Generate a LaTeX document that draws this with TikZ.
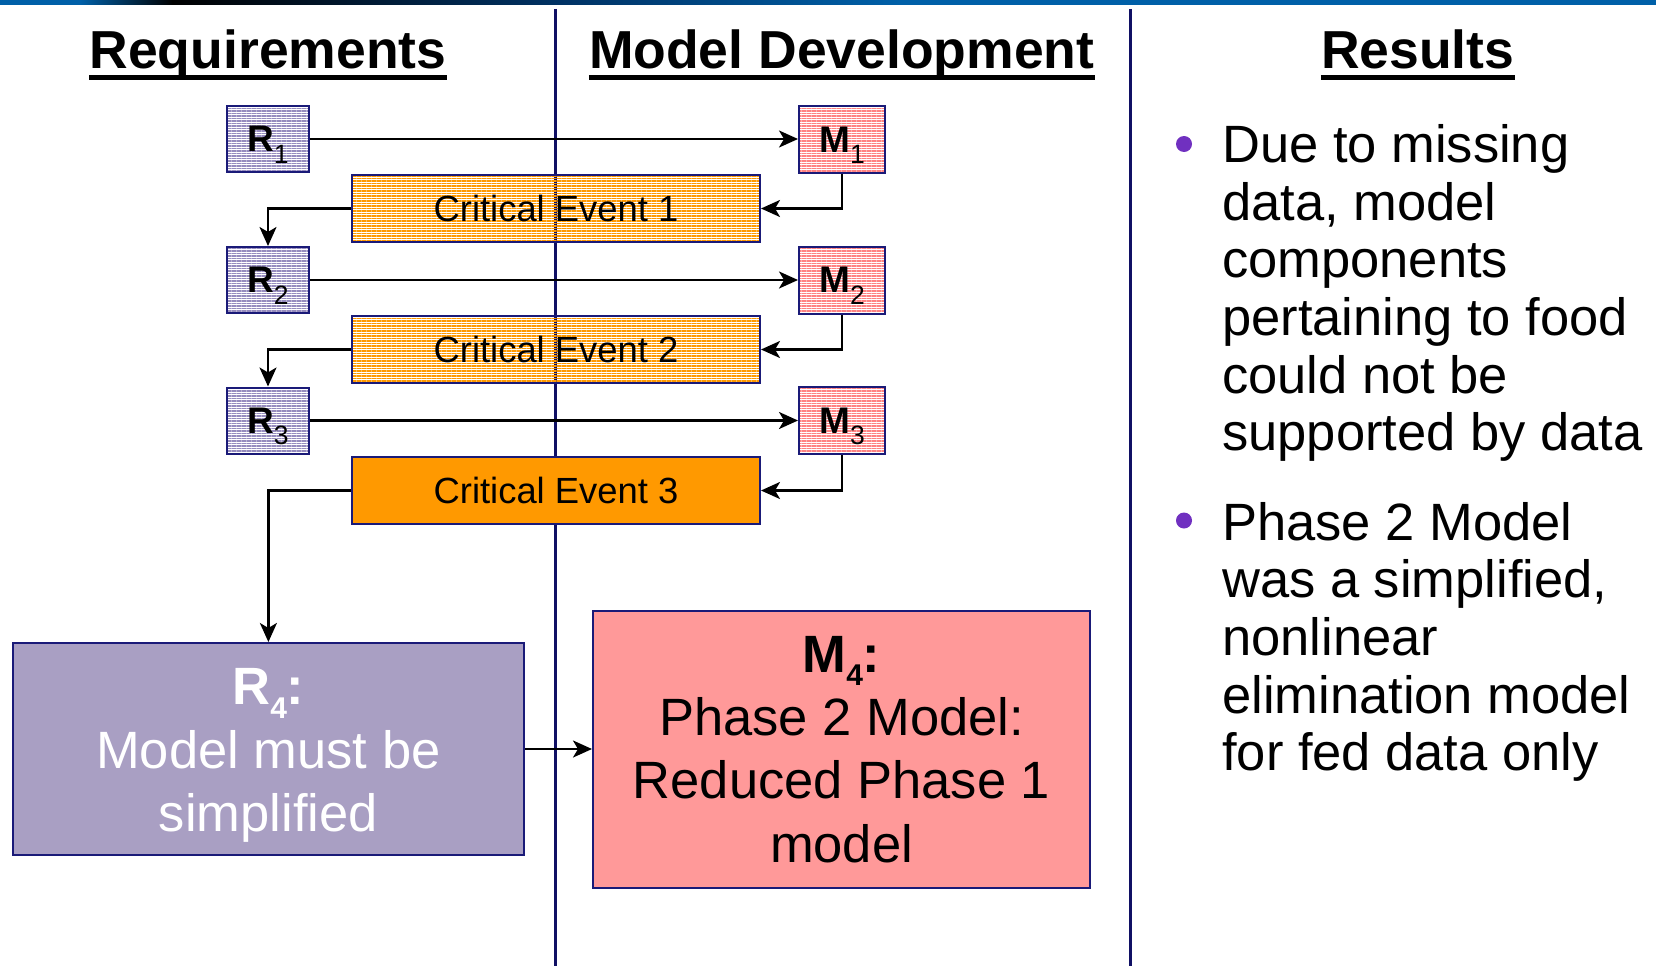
\documentclass[tikz,border=0pt]{standalone}
\usepackage{fontspec}
\setmainfont{Liberation Sans}
\usetikzlibrary{arrows.meta,patterns.meta}
\definecolor{navy}{RGB}{26,26,120}
\definecolor{vnavy}{RGB}{16,16,100}
\definecolor{rline}{RGB}{150,140,190}
\definecolor{mline}{RGB}{255,130,130}
\definecolor{oline}{RGB}{255,153,0}
\definecolor{rfill}{RGB}{169,159,195}
\definecolor{mfill}{RGB}{255,153,153}
\definecolor{ofill}{RGB}{255,153,0}
\definecolor{bulletc}{RGB}{112,48,192}
\definecolor{barblue}{RGB}{0,96,168}
\definecolor{bardark}{RGB}{0,50,100}
\newcommand\subsmall[1]{\raisebox{-11.6pt}[0pt][0pt]{\fontsize{26.5pt}{27pt}\selectfont\mdseries #1}}
\newcommand\sublarge[1]{\raisebox{-13.4pt}[0pt][0pt]{\fontsize{30pt}{31pt}\selectfont\bfseries #1}}
\begin{document}
\begin{tikzpicture}[x=1pt,y=-1pt,
  box/.style={draw=navy, line width=2pt, inner sep=0pt, minimum height=66pt},
  rbox/.style={box, minimum width=82pt, pattern={Lines[angle=0,distance=2.5pt,line width=1.1pt]}, pattern color=rline, font=\fontsize{37pt}{40pt}\selectfont\bfseries},
  mbox/.style={box, minimum width=86pt, minimum height=67pt, pattern={Lines[angle=0,distance=2.5pt,line width=1.1pt]}, pattern color=mline, font=\fontsize{37pt}{40pt}\selectfont\bfseries},
  cebox/.style={box, minimum width=408pt, minimum height=67pt, font=\fontsize{36.4pt}{40pt}\selectfont},
  cehatch/.style={cebox, pattern={Lines[angle=0,distance=2.5pt,line width=1.1pt]}, pattern color=oline},
  bigtext/.style={font=\fontsize{52.5pt}{63.3pt}\selectfont, align=center, inner sep=0pt},
  conn/.style={line width=2.5pt, -{Stealth[length=19pt,width=17pt,inset=5pt]}},
  vline/.style={line width=3pt, vnavy},
  hdr/.style={font=\fontsize{53.5pt}{60pt}\selectfont\bfseries, inner sep=0pt, anchor=base},
  restext/.style={anchor=north west, inner sep=0pt, align=left, font=\fontsize{52.5pt}{57.6pt}\selectfont},
  bul/.style={circle, fill=bulletc, minimum size=16pt, inner sep=0pt}
]
\useasboundingbox (0,0) rectangle (1656,966);
% top bar
\fill[barblue] (0,0) rectangle (80.5,5);
\shade[left color=barblue, right color=black] (80,0) rectangle (172.5,5);
\shade[left color=black, right color=bardark] (172,0) rectangle (560.5,5);
\shade[left color=bardark, right color=barblue] (560,0) rectangle (900.5,5);
\fill[barblue] (900,0) rectangle (1656,5);
% column separators
\draw[vline] (555.5,9) -- (555.5,966);
\draw[vline] (1130,9) -- (1130,966);
% headers
\node[hdr] (h1) at (268,68.3) {Requirements};
\node[hdr] (h2) at (841.7,68.3) {Model Development};
\node[hdr] (h3) at (1417.7,68.3) {Results};
\foreach \h in {h1,h2,h3}
  \draw[line width=5pt] ([yshift=-9.2pt]\h.base west) -- ([yshift=-9.2pt]\h.base east);
% requirement boxes
\node[rbox] (R1) at (268,139) {R\subsmall{1}};
\node[rbox] (R2) at (268,280) {R\subsmall{2}};
\node[rbox] (R3) at (268,420.5) {R\subsmall{3}};
% model boxes
\node[mbox] (M1) at (842,139.5) {M\subsmall{1}};
\node[mbox] (M2) at (842,280) {M\subsmall{2}};
\node[mbox] (M3) at (842,420.5) {M\subsmall{3}};
% critical events
\node[cehatch] (CE1) at (556,208.5) {Critical Event 1};
\node[cehatch] (CE2) at (556,349.5) {Critical Event 2};
\node[cebox, fill=ofill] (CE3) at (556,490.5) {Critical Event 3};
% big boxes
\node[box, fill=rfill, minimum width=511pt, minimum height=212pt, bigtext, text=white] (R4) at (268.4,749)
  {\rule{0pt}{49pt}\textbf{R\sublarge{4}:}\\Model must be\\simplified};
\node[box, fill=mfill, minimum width=497pt, minimum height=277pt, bigtext] (M4) at (841.5,749.5)
  {\textbf{M\sublarge{4}:}\\Phase 2 Model:\\Reduced Phase 1\\model};
% connectors
\draw[conn] (R1.east) -- (R1.east -| M1.west);
\draw[conn] (R2.east) -- (R2.east -| M2.west);
\draw[conn] (R3.east) -- (R3.east -| M3.west);
\draw[conn] (M1.south) |- (CE1.east);
\draw[conn] (M2.south) |- (CE2.east);
\draw[conn] (M3.south) |- (CE3.east);
\draw[conn] (CE1.west) -| (R2.north);
\draw[conn] (CE2.west) -| (R3.north);
\draw[conn] (CE3.west) -| (R4.north);
\draw[conn] (R4.east) -- (R4.east -| M4.west);
% results
\node[bul] (b1) at (1184,144) {};
\node[bul] (b2) at (1184,520.5) {};
\node[restext] (t1) at (1222,124.5) {Due to missing\\data, model\\components\\pertaining to food\\could not be\\supported by data};
\node[restext] (t2) at (1222,502) {Phase 2 Model\\was a simplified,\\nonlinear\\elimination model\\for fed data only};
\end{tikzpicture}
\end{document}
